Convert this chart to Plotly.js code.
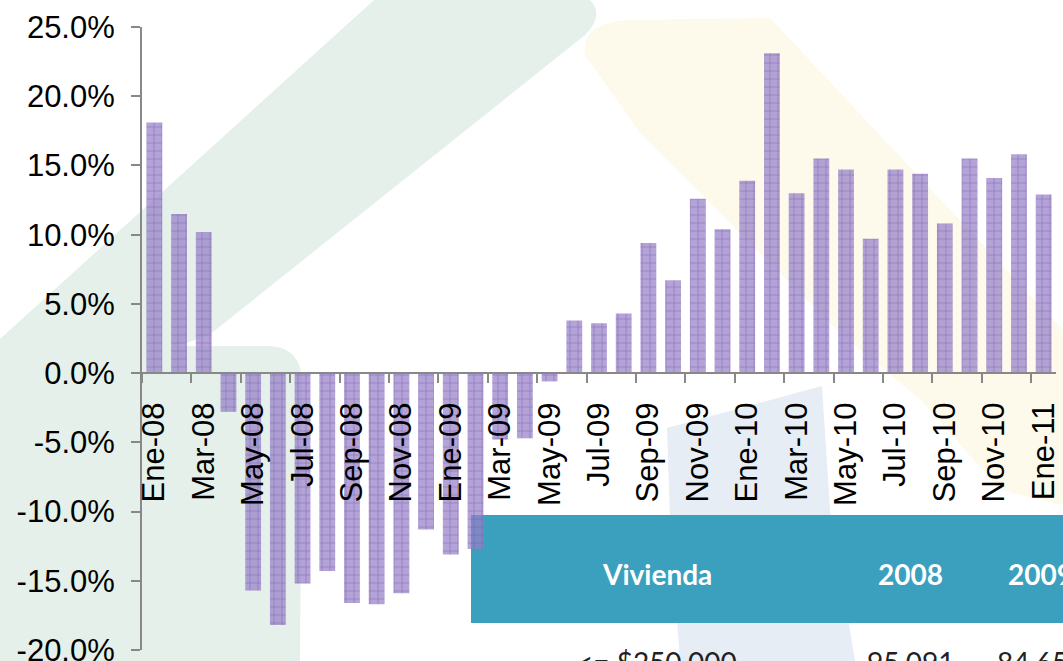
<!DOCTYPE html>
<html>
<head>
<meta charset="utf-8">
<script src="https://cdn.plot.ly/plotly-3.0.1.min.js"></script>
<style>
  html, body { margin: 0; padding: 0; background: #ffffff; }
  #chart { width: 1063px; height: 661px; }
</style>
</head>
<body>
<div id="chart"></div>
<script>
// ---- Data ----
const categories = [
  'Ene-08','Feb-08','Mar-08','Abr-08','May-08','Jun-08','Jul-08','Ago-08','Sep-08','Oct-08','Nov-08','Dic-08',
  'Ene-09','Feb-09','Mar-09','Abr-09','May-09','Jun-09','Jul-09','Ago-09','Sep-09','Oct-09','Nov-09','Dic-09',
  'Ene-10','Feb-10','Mar-10','Abr-10','May-10','Jun-10','Jul-10','Ago-10','Sep-10','Oct-10','Nov-10','Dic-10',
  'Ene-11'
];
const growthPct = [
  18.1, 11.5, 10.2, -2.8, -15.7, -18.2, -15.2, -14.3, -16.6, -16.7, -15.9, -11.3,
  -13.1, -12.7, -4.8, -4.7, -0.6, 3.8, 3.6, 4.3, 9.4, 6.7, 12.6, 10.4,
  13.9, 23.1, 13.0, 15.5, 14.7, 9.7, 14.7, 14.4, 10.8, 15.5, 14.1, 15.8,
  12.9
];
const yTickVals = [-20, -15, -10, -5, 0, 5, 10, 15, 20, 25];
const tableHeader = ['Vivienda', '2008', '2009'];
const tableRow = ['&lt;= $250,000', '95,091', '84,65'];

// tick marks sit on the category boundary just before each labelled (every 2nd) month
const boundaryTicks = categories.map((c, i) => i).filter(i => i % 2 === 0).map(i => i - 0.5);

// ---- Geometry helpers (pixel -> paper) ----
const L = 142, R = 1056, T = 27, B = 650;
const px = x => (x - L) / (R - L);
const py = y => (B - y) / (B - T);
function pathFrom(cmds) {
  return cmds.map(c => {
    if (c[0] === 'Q') return 'Q' + px(c[1]) + ',' + py(c[2]) + ' ' + px(c[3]) + ',' + py(c[4]);
    if (c[0] === 'Z') return 'Z';
    return c[0] + px(c[1]) + ',' + py(c[2]);
  }).join(' ');
}

const green = 'rgb(228,240,233)';
const yellow = 'rgb(253,250,235)';
const blue = 'rgb(231,237,245)';

const shapes = [
  { type: 'path', xref: 'paper', yref: 'paper', layer: 'below', line: { width: 0 }, fillcolor: green,
    path: pathFrom([['M', 374, 0], ['Q', 470, -10, 590, 0], ['Q', 605, 15, 585, 35], ['L', 213, 332],
                    ['Q', 180, 350, 140, 346], ['L', 0, 346], ['L', 0, 339], ['Z']]) },
  { type: 'path', xref: 'paper', yref: 'paper', layer: 'below', line: { width: 0 }, fillcolor: green,
    path: pathFrom([['M', 0, 346], ['L', 270, 346], ['Q', 303, 348, 302, 385], ['L', 300, 661],
                    ['L', 0, 661], ['Z']]) },
  { type: 'path', xref: 'paper', yref: 'paper', layer: 'below', line: { width: 0 }, fillcolor: yellow,
    path: pathFrom([['M', 585, 55], ['Q', 580, 22, 630, 20], ['L', 770, 18], ['L', 1063, 330],
                    ['L', 1063, 505], ['L', 1000, 490], ['L', 923, 402], ['L', 840, 333],
                    ['L', 740, 233], ['L', 640, 133], ['Z']]) },
  { type: 'path', xref: 'paper', yref: 'paper', layer: 'below', line: { width: 0 }, fillcolor: blue,
    path: pathFrom([['M', 667, 428], ['L', 822, 386], ['L', 830, 510], ['L', 855, 661],
                    ['L', 680, 661], ['L', 670, 520], ['Z']]) },
  { type: 'rect', xref: 'paper', yref: 'paper', layer: 'below', line: { width: 0 }, fillcolor: '#3aa0be',
    x0: px(471), x1: px(1070), y0: py(623), y1: py(515) }
];

const headFont = { family: 'Lato, "Open Sans", sans-serif', size: 28, color: '#ffffff', weight: 700 };
const rowFont = { family: 'Lato, "Open Sans", sans-serif', size: 28, color: '#222222' };

const annotations = [
  { xref: 'paper', yref: 'paper', x: px(657), y: py(574), xanchor: 'center', yanchor: 'middle',
    text: '<b>' + tableHeader[0] + '</b>', showarrow: false, font: headFont },
  { xref: 'paper', yref: 'paper', x: px(910), y: py(574), xanchor: 'center', yanchor: 'middle',
    text: '<b>' + tableHeader[1] + '</b>', showarrow: false, font: headFont },
  { xref: 'paper', yref: 'paper', x: px(1006), y: py(574), xanchor: 'left', yanchor: 'middle',
    text: '<b>' + tableHeader[2] + '</b>', showarrow: false, font: headFont },
  { xref: 'paper', yref: 'paper', x: px(575), y: py(662), xanchor: 'left', yanchor: 'middle',
    text: tableRow[0], showarrow: false, font: rowFont },
  { xref: 'paper', yref: 'paper', x: px(865), y: py(662), xanchor: 'left', yanchor: 'middle',
    text: tableRow[1], showarrow: false, font: rowFont },
  { xref: 'paper', yref: 'paper', x: px(995), y: py(662), xanchor: 'left', yanchor: 'middle',
    text: tableRow[2], showarrow: false, font: rowFont }
];

const trace = {
  type: 'bar',
  x: categories,
  y: growthPct,
  marker: {
    color: 'rgba(150,128,200,0.72)',
    line: { width: 0 },
    pattern: { shape: '+', fgcolor: '#7656ab', bgcolor: 'rgba(150,128,200,0.72)', size: 8, solidity: 0.2, fillmode: 'overlay' }
  },
  hoverinfo: 'x+y'
};

// empty helper trace so the tick-mark axis (x2) is rendered
const tickAxisTrace = {
  type: 'scatter', mode: 'markers', x: [], y: [], xaxis: 'x2', yaxis: 'y',
  showlegend: false, hoverinfo: 'skip'
};

const tickFont = { family: '"Liberation Sans", Arial, sans-serif', size: 31, color: '#000000' };

const layout = {
  width: 1063, height: 661,
  margin: { l: L, r: 1063 - R, t: T, b: 661 - B, pad: 0 },
  paper_bgcolor: '#ffffff',
  plot_bgcolor: 'rgba(0,0,0,0)',
  showlegend: false,
  bargap: 0.36,
  xaxis: {
    type: 'category',
    range: [-0.5, 36.5],
    anchor: 'free',
    position: 20 / 45,
    tickmode: 'linear', tick0: 0, dtick: 2,
    ticks: 'outside', ticklen: 16, tickwidth: 1, tickcolor: 'rgba(0,0,0,0)',
    showline: true, linecolor: '#888888', linewidth: 2,
    showgrid: false, zeroline: false,
    tickangle: -90,
    tickfont: tickFont,
    ticklabeloverflow: 'allow'
  },
  xaxis2: {
    overlaying: 'x',
    anchor: 'free',
    position: 20 / 45,
    type: 'linear',
    range: [-0.5, 36.5],
    autorange: false,
    tickmode: 'array', tickvals: boundaryTicks,
    ticks: 'outside', ticklen: 9, tickwidth: 2, tickcolor: '#888888',
    showticklabels: false, showline: false, showgrid: false, zeroline: false
  },
  yaxis: {
    range: [-20, 25],
    tickmode: 'array', tickvals: yTickVals,
    ticktext: yTickVals.map(v => v.toFixed(1) + '%'),
    ticks: 'outside', ticklen: 9, tickwidth: 2, tickcolor: '#888888',
    showline: true, linecolor: '#888888', linewidth: 2,
    showgrid: false, zeroline: false,
    tickfont: tickFont,
    ticklabelstandoff: 10,
    ticklabeloverflow: 'allow'
  },
  shapes: shapes,
  annotations: annotations
};

Plotly.newPlot('chart', [trace, tickAxisTrace], layout, { displayModeBar: false, staticPlot: true });
</script>
</body>
</html>
